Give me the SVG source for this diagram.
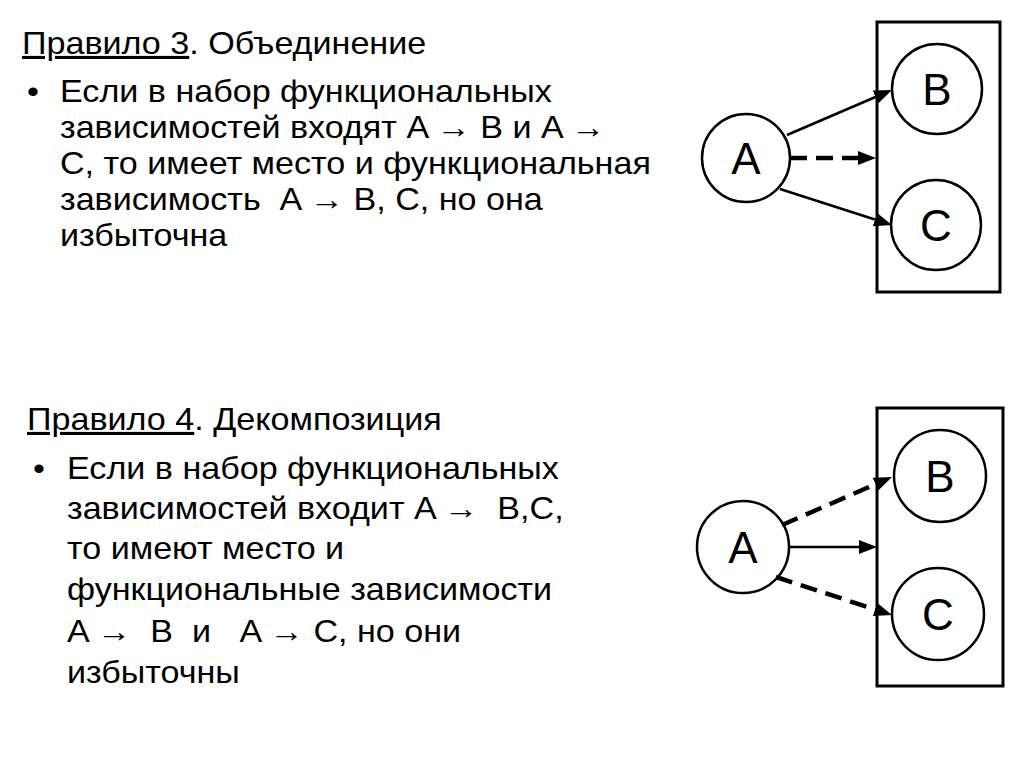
<svg xmlns="http://www.w3.org/2000/svg" width="1024" height="767" viewBox="0 0 1024 767">
<style>
.t{font-family:"Liberation Sans",Arial,sans-serif;font-size:31px;fill:#000;white-space:pre}
.lbl{font-family:"Liberation Sans",Arial,sans-serif;font-size:44px;fill:#000;text-anchor:middle}
.node{fill:#fff;stroke:#000;stroke-width:2.5}
.box{fill:#fff;stroke:#000;stroke-width:3}
.solid{stroke:#000;stroke-width:2.5;fill:none}
.dash{stroke:#000;stroke-width:4.5;fill:none;stroke-dasharray:17 9}
</style>
<defs>
<marker id="ah" markerUnits="userSpaceOnUse" markerWidth="18" markerHeight="14" refX="0" refY="7" orient="auto">
<path d="M0,0 L18,7 L0,14 z" fill="#000"/>
</marker>
</defs>
<rect width="1024" height="767" fill="#fff"/>

<g id="text-rule3">
<text class="t" transform="translate(22,54) scale(1.1,1)"><tspan text-decoration="underline">Правило 3</tspan>. Объединение</text>
<text class="t" transform="translate(27,102) scale(1.1,1)">•</text>
<text class="t" transform="translate(60,102) scale(1.1,1)">Если в набор функциональных</text>
<text class="t" transform="translate(60,138) scale(1.1,1)">зависимостей входят A → B и A →</text>
<text class="t" transform="translate(60,174) scale(1.1,1)">C, то имеет место и функциональная</text>
<text class="t" transform="translate(60,210) scale(1.1,1)">зависимость  A → B, C, но она</text>
<text class="t" transform="translate(60,246) scale(1.1,1)">избыточна</text>
</g>

<g id="text-rule4">
<text class="t" transform="translate(27,430) scale(1.1,1)"><tspan text-decoration="underline">Правило 4</tspan>. Декомпозиция</text>
<text class="t" transform="translate(33,479) scale(1.1,1)">•</text>
<text class="t" transform="translate(67,479) scale(1.1,1)">Если в набор функциональных</text>
<text class="t" transform="translate(67,519) scale(1.1,1)">зависимостей входит A →  B,C,</text>
<text class="t" transform="translate(67,559) scale(1.1,1)">то имеют место и</text>
<text class="t" transform="translate(67,600) scale(1.1,1)">функциональные зависимости</text>
<text class="t" transform="translate(67,642) scale(1.1,1)">A →  B  и   A → C, но они</text>
<text class="t" transform="translate(67,683) scale(1.1,1)">избыточны</text>
</g>

<g id="box-BC-top"><rect class="box" x="877" y="22" width="123" height="270"/></g>
<g id="node-A-top"><circle class="node" cx="746" cy="158" r="44"/><text class="lbl" x="746" y="174">A</text></g>
<g id="node-B-top"><circle class="node" cx="937" cy="89" r="45"/><text class="lbl" x="937" y="105">B</text></g>
<g id="node-C-top"><circle class="node" cx="936" cy="225" r="45"/><text class="lbl" x="936" y="241">C</text></g>

<g id="box-BC-bottom"><rect class="box" x="877" y="408" width="126" height="278"/></g>
<g id="node-A-bottom"><circle class="node" cx="743" cy="547" r="46"/><text class="lbl" x="743" y="563">A</text></g>
<g id="node-B-bottom"><circle class="node" cx="940" cy="476" r="46"/><text class="lbl" x="940" y="492">B</text></g>
<g id="node-C-bottom"><circle class="node" cx="938" cy="614" r="46"/><text class="lbl" x="938" y="630">C</text></g>

<g id="connectors">
<line class="solid" x1="787" y1="135" x2="875.5" y2="97" marker-end="url(#ah)"/>
<line class="dash" x1="790" y1="158" x2="858" y2="158" marker-end="url(#ah)"/>
<line class="solid" x1="780" y1="189" x2="874.9" y2="219.5" marker-end="url(#ah)"/>
<line class="dash" x1="782" y1="525" x2="875.5" y2="484.2" marker-end="url(#ah)"/>
<line class="solid" x1="790" y1="547" x2="859" y2="547" stroke-width="2" marker-end="url(#ah)"/>
<line class="dash" x1="776" y1="577" x2="874.9" y2="609.4" marker-end="url(#ah)"/>
</g>
</svg>
